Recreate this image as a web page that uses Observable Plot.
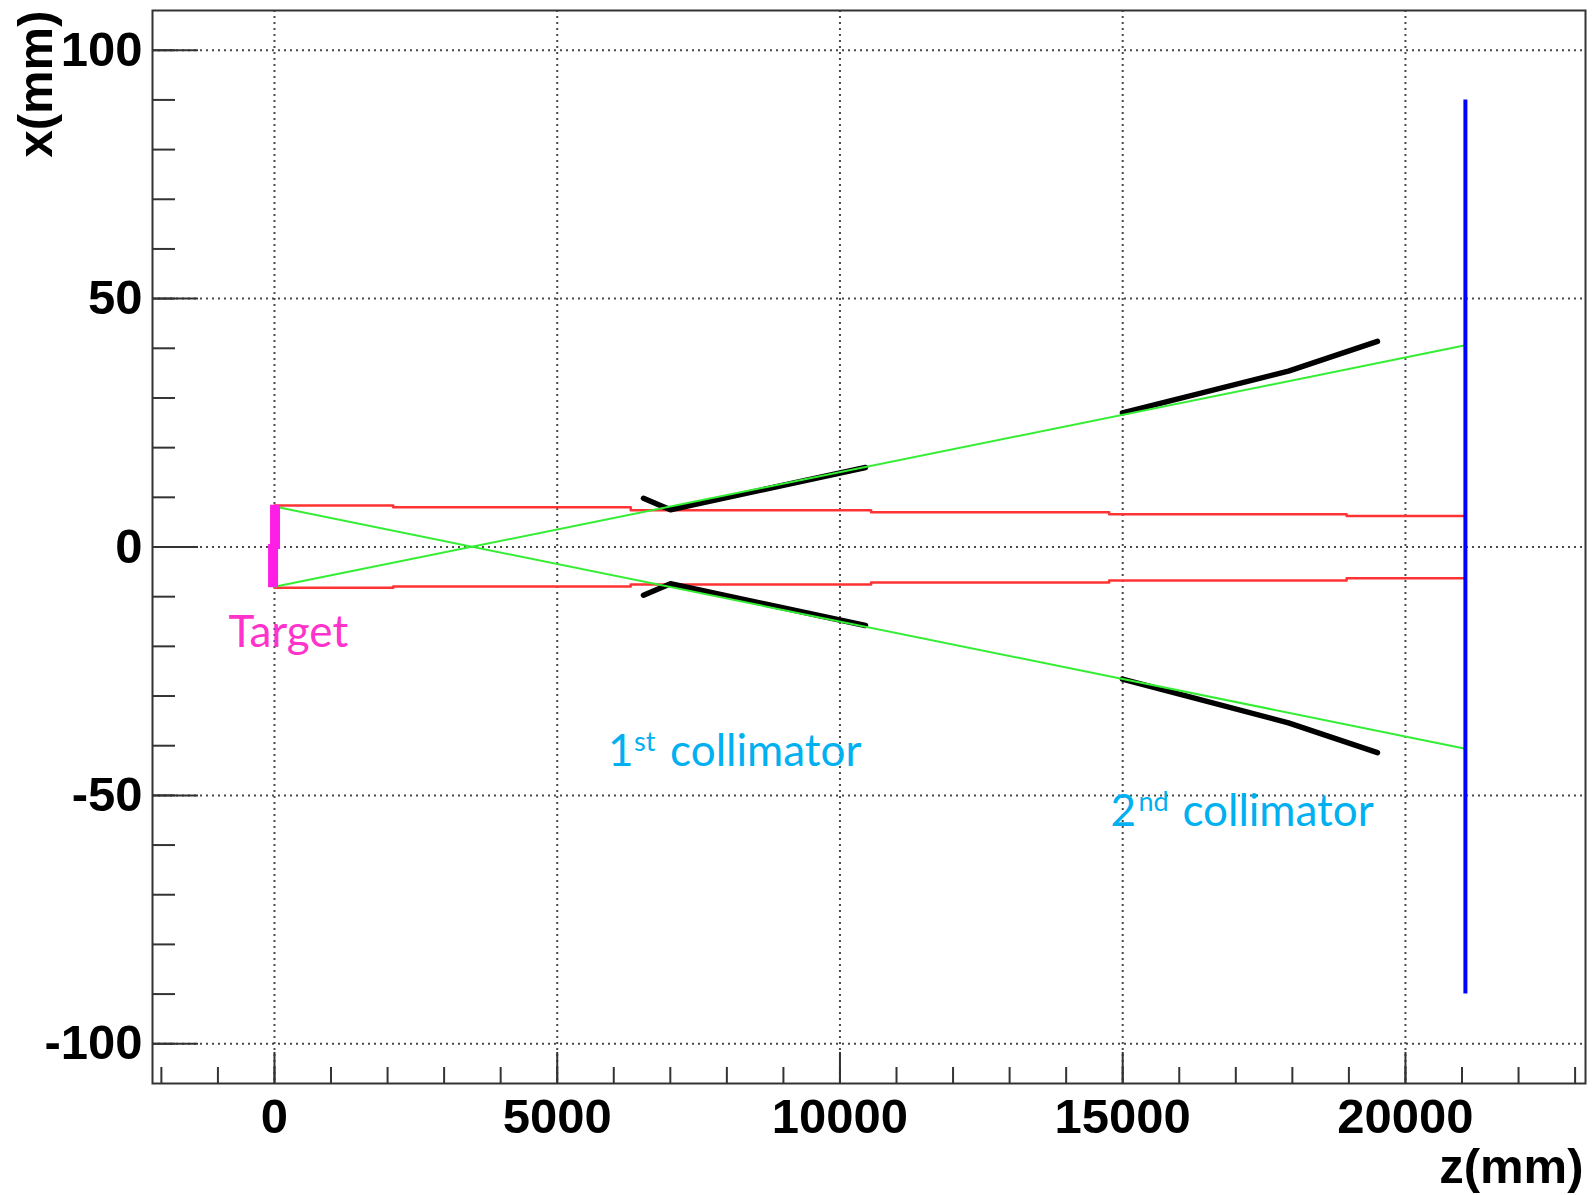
<!DOCTYPE html>
<html><head><meta charset="utf-8">
<script src="https://cdn.jsdelivr.net/npm/d3@7"></script>
<script src="https://cdn.jsdelivr.net/npm/@observablehq/plot@0.6"></script>
<style>html,body{margin:0;padding:0;background:#fff;}</style>
</head><body><div id="chart"></div>
<script>
// Axis ticks
const majorZ = [0, 5000, 10000, 15000, 20000];
const minorZ = d3.range(-2000, 23001, 1000);
const majorX = [-100, -50, 0, 50, 100];
const minorX = d3.range(-100, 101, 10);

// Beam pipe (red), stepped aperture
const pipeZ = [0, 2100, 6300, 10550, 14760, 18960, 21060];
const pipeUpper = [8.35, 8.0, 7.4, 7.0, 6.6, 6.25, 6.25];
const pipeLower = [-8.2, -7.95, -7.55, -7.15, -6.75, -6.3, -6.3];

// Acceptance rays (green)
const rayZ = [0, 21060];
const rayDown = [8.15, -40.6];
const rayUp = [-8.0, 40.6];

// Collimators (black)
const coll1Z = [6525, 7003, 10451];
const coll1Upper = [9.8, 7.5, 16.0];
const coll1Lower = [-9.7, -7.4, -15.8];
const coll2Z = [14995, 17931, 19505];
const coll2Upper = [27.0, 35.4, 41.4];
const coll2Lower = [-26.6, -35.4, -41.4];

// Detector plane (blue)
const detectorZ = 21060;
const detectorX = [-90, 90];

// Target (magenta)
const targetZ = [10, -25];
const targetX1 = [-0.5, -8.2];
const targetX2 = [8.4, 0.5];

// Annotations
const targetLabel = {text: "Target", z: -813, x: -20.2};
const coll1Label = {num: "1", sup: "st", text: "collimator", z: 5900, x: -44.0};
const coll2Label = {num: "2", sup: "nd", text: "collimator", z: 14783, x: -56.1};

const pts = (zs, xs) => zs.map((z, i) => ({z, x: xs[i]}));
const targetSegs = targetZ.map((z, i) => ({z, x1: targetX1[i], x2: targetX2[i]}));

const W = 1593, H = 1195, mL = 152, mR = 8, mT = 10, mB = 112;
const innerW = W - mL - mR, innerH = H - mT - mB;
const frameColor = "#333";
const gridStyle = {stroke: "#4a4a4a", strokeWidth: 2, strokeDasharray: "2,4"};
const labelFont = "Lato, 'Open Sans', sans-serif";
const cyan = "#00b0f0";

const collLabelMarks = (lab, supDx, restDx) => [
  Plot.text([lab], {x: "z", y: "x", text: "num", textAnchor: "start", lineAnchor: "bottom", fontSize: 44, fontWeight: "normal", fontFamily: labelFont, fill: cyan}),
  Plot.text([lab], {x: "z", y: "x", text: "sup", textAnchor: "start", lineAnchor: "bottom", dx: supDx, dy: -15, fontSize: 27, fontWeight: "normal", fontFamily: labelFont, fill: cyan}),
  Plot.text([lab], {x: "z", y: "x", text: "text", textAnchor: "start", lineAnchor: "bottom", dx: restDx, fontSize: 44, fontWeight: "normal", fontFamily: labelFont, fill: cyan})
];

const chart = Plot.plot({
  width: W, height: H,
  marginLeft: mL, marginRight: mR, marginTop: mT, marginBottom: mB,
  x: {domain: [-2157, 23184]},
  y: {domain: [-108, 108]},
  style: {background: "white", color: "black", fontFamily: "'Liberation Sans', Arial, sans-serif", fontWeight: "bold", fontSize: "49px", overflow: "visible"},
  marks: [
    Plot.ruleX(majorZ, {x: d => d, ...gridStyle}),
    Plot.ruleY(majorX, {y: d => d, ...gridStyle}),
    Plot.line(pts(pipeZ, pipeUpper), {x: "z", y: "x", curve: "step-after", stroke: "#ff3333", strokeWidth: 2.5}),
    Plot.line(pts(pipeZ, pipeLower), {x: "z", y: "x", curve: "step-after", stroke: "#ff3333", strokeWidth: 2.5}),
    Plot.line(pts(coll1Z, coll1Upper), {x: "z", y: "x", stroke: "black", strokeWidth: 5.5}),
    Plot.line(pts(coll1Z, coll1Lower), {x: "z", y: "x", stroke: "black", strokeWidth: 5.5}),
    Plot.line(pts(coll2Z, coll2Upper), {x: "z", y: "x", stroke: "black", strokeWidth: 5.5}),
    Plot.line(pts(coll2Z, coll2Lower), {x: "z", y: "x", stroke: "black", strokeWidth: 5.5}),
    Plot.line(pts(rayZ, rayDown), {x: "z", y: "x", stroke: "#33ee33", strokeWidth: 2}),
    Plot.line(pts(rayZ, rayUp), {x: "z", y: "x", stroke: "#33ee33", strokeWidth: 2}),
    Plot.ruleX([detectorZ], {x: d => d, y1: detectorX[0], y2: detectorX[1], stroke: "#0000ff", strokeWidth: 4}),
    Plot.ruleX(targetSegs, {x: "z", y1: "x1", y2: "x2", stroke: "#ff1ee6", strokeWidth: 10}),
    Plot.frame({stroke: frameColor, strokeWidth: 2}),
    Plot.ruleX(minorZ, {x: d => d, insetTop: innerH - 16, stroke: frameColor, strokeWidth: 2}),
    Plot.ruleX(majorZ, {x: d => d, insetTop: innerH - 31, stroke: frameColor, strokeWidth: 2}),
    Plot.ruleY(minorX, {y: d => d, insetRight: innerW - 23, stroke: frameColor, strokeWidth: 2}),
    Plot.ruleY(majorX, {y: d => d, insetRight: innerW - 46, stroke: frameColor, strokeWidth: 2}),
    Plot.axisX(majorZ, {tickSize: 0, tickPadding: 15, tickFormat: d => String(d), label: null, fontSize: 49, fontWeight: "bold"}),
    Plot.axisY(majorX, {tickSize: 0, tickPadding: 10, tickFormat: d => String(d), label: null, fontSize: 49, fontWeight: "bold"}),
    Plot.text(["z(mm)"], {text: d => d, frameAnchor: "bottom-right", textAnchor: "end", lineAnchor: "middle", dx: -2, dy: 84, fontSize: 49, fontWeight: "bold"}),
    Plot.text(["x(mm)"], {text: d => d, frameAnchor: "top-left", rotate: -90, textAnchor: "end", lineAnchor: "middle", dx: -116, dy: 0, fontSize: 49, fontWeight: "bold"}),
    Plot.text([targetLabel], {x: "z", y: "x", text: "text", textAnchor: "start", lineAnchor: "bottom", fontSize: 44, fontWeight: "normal", fontFamily: labelFont, fill: "#ff33cc"}),
    ...collLabelMarks(coll1Label, 26, 62),
    ...collLabelMarks(coll2Label, 28, 72)
  ]
});
document.getElementById("chart").appendChild(chart);
</script>
</body></html>
